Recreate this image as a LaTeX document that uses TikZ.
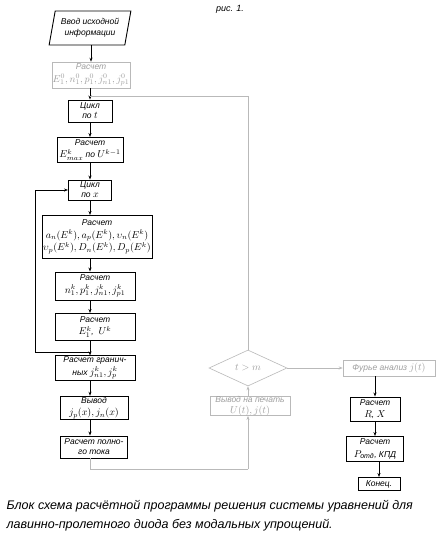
\documentclass[tikz,border=0pt]{standalone}
\usepackage{fontspec}
\setmainfont{Liberation Sans}
\usepackage{amsmath}
\usetikzlibrary{arrows.meta,shapes.geometric,positioning}

% formulas a little larger than the Latin Modern default
\newcommand{\frml}[1]{{\fontsize{10}{12.5}\selectfont$#1$}}

\tikzset{
  box/.style={draw,line width=0.9pt,inner sep=1pt,align=center,
    font=\itshape\fontsize{8.5}{12.5}\selectfont},
  pale/.style={box,draw=gray!55,text=gray!75,line width=0.6pt},
  io/.style={box,trapezium,trapezium left angle=76,trapezium right angle=104,
    trapezium stretches=true},
  test/.style={pale,diamond,aspect=2.1,inner sep=0pt},
  flow/.style={-{Stealth[length=4pt,width=3pt]},line width=0.8pt},
  back/.style={line width=0.7pt,draw=gray!55},
}

\begin{document}
\begin{tikzpicture}[x=1pt,y=-1pt]
  \useasboundingbox[fill=white] (0,0) rectangle (440,536);
  \node[font=\itshape\fontsize{9}{10}\selectfont] (title) at (230,9) {рис. 1.};

  % left column
  \node[io,minimum width=82,minimum height=34,font=\itshape\fontsize{8.5}{11}\selectfont] (inp) at (90,28) {Ввод исходной\\информации};
  \node[pale,minimum width=78,minimum height=26,inner sep=0pt] (init) at (91,75) {Расчет\\\frml{E^0_1, n^0_1, p^0_1, j^0_{n1}, j^0_{p1}}};
  \node[box,minimum width=44,minimum height=22,font=\itshape\fontsize{8.5}{10}\selectfont] (cyct) at (90,111) {Цикл\\по \frml{t}};
  \node[box,minimum width=66,minimum height=25] (emax) at (90,150) {Расчет\\\frml{E^k_{max}} по \frml{U^{k-1}}};
  \node[box,minimum width=43,minimum height=20,font=\itshape\fontsize{8.5}{10}\selectfont] (cycx) at (90,190) {Цикл\\по \frml{x}};
  \node[box,minimum width=110,minimum height=43] (coef) at (97,237)
    {Расчет\\\frml{a_n(E^k), a_p(E^k), \upsilon_n(E^k)}\\\frml{\upsilon_p(E^k), D_n(E^k), D_p(E^k)}};
  \node[box,minimum width=80,minimum height=28] (nk) at (95,286) {Расчет\\\frml{n^k_1, p^k_1, j^k_{n1}, j^k_{p1}}};
  \node[box,minimum width=80,minimum height=27] (ek) at (95,327) {Расчет\\\frml{E^k_1}, \ \frml{U^k}};
  \node[box,minimum width=80,minimum height=24] (bnd) at (95,368) {Расчет гранич-\\ных \frml{j^k_{n1}, j^k_{p}}};
  \node[box,minimum width=68,minimum height=23] (outj) at (94,408) {Вывод\\\frml{j_p(x), j_n(x)}};
  \node[box,minimum width=67,minimum height=22,font=\itshape\fontsize{8.5}{10}\selectfont] (curr) at (94,447) {Расчет полно-\\го тока};

  % middle column
  \node[test,minimum width=78,minimum height=36] (dec) at (248,368) {\frml{t > m}};
  \node[pale,minimum width=80,minimum height=18,inner sep=0pt,font=\itshape\fontsize{8.5}{10.5}\selectfont] (prt) at (250,406) {Вывод на печать\\\frml{U(t), j(t)}};

  % right column
  \node[pale,minimum width=92,minimum height=16] (four) at (389,368) {Фурье анализ \frml{j(t)}};
  \node[box,minimum width=50,minimum height=24] (rx) at (375,409) {Расчет\\\frml{R}, \frml{X}};
  \node[box,minimum width=57,minimum height=25] (pk) at (375,449) {Расчет\\\frml{P_{\text{отд}}}, КПД};
  \node[box,minimum width=42,minimum height=13] (stop) at (379,484) {Конец.};

  % caption
  \node[anchor=west,font=\itshape\fontsize{12.5}{13}\selectfont] (cap1) at (3,506)
    {Блок схема расчётной программы решения системы уравнений для};
  \node[anchor=west,font=\itshape\fontsize{12.5}{13}\selectfont] (cap2) at (3,525)
    {лавинно-пролетного диода без модальных упрощений.};

  % main flow
  \draw[flow] (inp.south -| init.north) -- (init.north);
  \draw[flow] (init.south -| cyct) -- (cyct.north);
  \draw[flow] (cyct.south) -- (emax.north);
  \draw[flow] (emax.south) -- (cycx.north);
  \draw[flow] (cycx.south) -- (cycx.south |- coef.north);
  \draw[flow] (coef.south -| cycx) -- (cycx |- nk.north);
  \draw[flow] (nk.south -| cycx) -- (cycx |- ek.north);
  \draw[flow] (ek.south -| cycx) -- (cycx |- bnd.north);
  \draw[flow] (bnd.south -| cycx) -- (cycx |- outj.north);
  \draw[flow] (outj.south -| cycx) -- (cycx |- curr.north);

  % loop over x
  \coordinate (lx) at (35,352);
  \draw[flow] (cycx |- lx) -- (lx) |- (cycx.west);

  % loop over t
  \coordinate (tl) at (248,96);
  \coordinate (bl) at (248,469);
  \draw[back] (curr.south -| cycx) |- (bl);
  \draw[flow,back] (bl) -- (prt.south -| bl);
  \draw[flow,back] (prt.north -| bl) -- (dec.south);
  \draw[back] (dec.north) -- (tl) -- (cyct |- tl);

  % exit
  \draw[flow,back] (dec.east) -- (four.west);
  \draw[flow] (rx.north |- four.south) -- (rx.north);
  \draw[flow] (rx.south) -- (pk.north);
  \draw[flow] (pk.south -| stop) -- (stop.north);
\end{tikzpicture}
\end{document}
